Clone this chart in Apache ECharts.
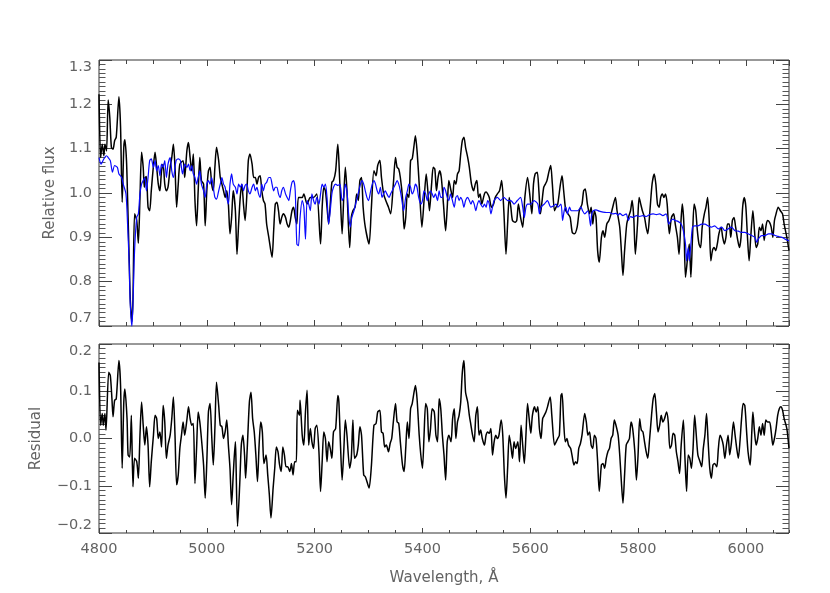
<!DOCTYPE html>
<html><head><meta charset="utf-8">
<script src="https://cdn.jsdelivr.net/npm/echarts@6/dist/echarts.min.js"></script>
<style>html,body{margin:0;padding:0;background:#fff}#c{width:830px;height:593px}</style>
</head><body><div id="c"></div>
<script>
// Observed spectrum (black)
const obsWave = [4800,4803,4806,4809,4811,4814,4817,4820,4823,4826,4829,4832,4837,4840,4843,4846,4848,4851,4853,4856,4858,4861,4863,4866,4870,4873,4876,4879,4882,4884,4886,4888,4891,4894,4897,4901,4904,4907,4910,4913,4916,4919,4922,4925,4928,4932,4935,4938,4941,4944,4947,4950,4956,4959,4963,4966,4969,4972,4975,4978,4981,4984,4987,4990,4994,4997,5000,5003,5006,5009,5012,5015,5018,5022,5025,5028,5031,5034,5037,5040,5043,5046,5049,5053,5056,5059,5062,5065,5068,5071,5074,5077,5080,5084,5087,5090,5093,5096,5099,5102,5105,5108,5111,5115,5121,5124,5127,5130,5133,5136,5139,5142,5146,5149,5152,5155,5158,5161,5164,5167,5170,5177,5180,5186,5192,5198,5204,5211,5214,5217,5220,5223,5226,5229,5232,5235,5239,5243,5245,5248,5251,5254,5257,5260,5265,5268,5271,5275,5278,5281,5284,5287,5290,5294,5301,5305,5310,5314,5317,5321,5324,5328,5332,5337,5341,5346,5350,5353,5356,5359,5363,5366,5369,5372,5375,5378,5381,5384,5387,5390,5394,5399,5403,5407,5410,5413,5417,5420,5423,5426,5429,5432,5435,5439,5443,5446,5449,5453,5456,5459,5462,5465,5468,5471,5474,5477,5480,5484,5487,5491,5495,5498,5501,5504,5507,5510,5515,5518,5521,5524,5528,5532,5535,5539,5543,5547,5551,5555,5558,5561,5564,5567,5572,5575,5578,5582,5586,5590,5595,5599,5603,5606,5609,5613,5616,5619,5622,5625,5628,5631,5635,5638,5641,5645,5648,5651,5656,5659,5662,5666,5670,5674,5678,5682,5687,5691,5696,5699,5702,5706,5710,5713,5716,5719,5722,5725,5728,5732,5735,5738,5742,5746,5750,5753,5758,5761,5766,5769,5772,5775,5779,5782,5786,5789,5792,5795,5799,5802,5805,5808,5812,5815,5818,5822,5826,5830,5833,5836,5839,5842,5845,5848,5851,5854,5858,5862,5866,5869,5873,5876,5879,5882,5885,5888,5892,5895,5898,5901,5904,5907,5910,5913,5916,5919,5923,5926,5929,5932,5935,5938,5941,5944,5947,5950,5954,5957,5960,5963,5966,5969,5972,5975,5978,5981,5985,5988,5991,5994,5997,6000,6003,6006,6009,6013,6016,6019,6022,6025,6028,6031,6034,6037,6040,6044,6047,6050,6053,6056,6060,6064,6068,6071,6076,6080];
const obsFlux = [1.223,1.080,1.110,1.084,1.110,1.095,1.210,1.171,1.103,1.099,1.118,1.126,1.217,1.148,0.979,1.103,1.120,1.073,0.990,0.850,0.760,0.710,0.760,0.953,0.938,0.887,0.990,1.092,1.058,1.013,1.035,1.037,0.968,0.960,1.005,1.062,1.092,1.058,1.020,1.005,1.050,1.065,1.020,1.005,1.013,1.058,1.080,1.110,1.058,0.968,1.020,1.065,1.073,1.035,1.095,1.114,1.080,1.050,1.088,0.983,0.926,1.005,1.080,1.028,1.020,0.926,1.005,1.050,1.058,1.020,1.005,1.058,1.103,1.073,1.035,1.020,1.005,0.990,1.005,0.975,0.908,0.945,1.005,0.960,0.862,0.930,0.990,1.020,0.975,0.938,0.990,1.073,1.088,1.065,1.035,1.035,1.020,1.035,1.039,1.005,0.983,0.975,0.930,0.900,0.855,0.915,0.975,0.979,0.960,0.930,0.945,0.953,0.945,0.930,0.923,0.938,0.960,0.968,0.945,0.930,0.990,0.990,0.998,0.975,0.990,0.990,0.998,0.885,0.968,1.013,1.005,0.968,0.930,0.975,1.024,1.028,1.050,1.110,1.073,0.983,0.908,0.990,1.058,1.005,0.877,0.945,0.960,0.968,0.998,0.983,1.028,1.035,0.968,0.923,0.885,0.960,1.050,1.039,1.062,1.074,1.035,0.998,0.983,0.968,0.953,1.020,1.080,1.058,1.054,1.035,0.990,0.919,0.945,0.998,0.990,1.073,1.077,1.103,1.129,1.095,1.020,0.923,0.983,1.043,1.005,0.960,1.020,1.058,1.054,1.005,1.035,1.050,1.035,0.975,0.915,0.968,1.028,1.005,0.990,1.028,1.020,1.043,1.050,1.088,1.118,1.126,1.103,1.080,1.058,1.020,1.005,1.020,1.028,0.990,0.998,0.975,0.998,1.002,0.998,0.990,0.968,0.975,0.990,0.998,1.005,1.028,0.960,0.862,0.930,0.990,0.968,0.938,0.934,0.938,0.975,0.945,0.923,0.990,1.035,0.998,0.953,1.020,1.043,1.047,1.005,0.953,0.983,1.013,1.020,1.028,1.050,1.062,1.020,0.960,0.968,0.975,1.020,1.039,1.005,0.960,0.953,0.945,0.911,0.908,0.923,0.960,0.975,1.005,1.009,0.975,0.953,0.968,0.930,0.960,0.945,0.870,0.844,0.900,0.915,0.900,0.930,0.938,0.953,0.968,0.990,0.960,0.923,0.870,0.814,0.870,0.930,0.945,0.960,0.983,0.945,0.862,0.930,0.990,0.975,0.960,0.945,0.923,0.908,0.960,1.020,1.043,1.020,0.975,0.968,0.990,0.998,0.990,0.998,0.975,0.908,0.945,0.953,0.930,0.900,0.862,0.923,0.975,0.930,0.810,0.855,0.885,0.810,0.900,0.975,0.960,0.915,0.885,0.877,0.923,0.953,0.968,0.990,0.938,0.847,0.870,0.877,0.870,0.885,0.908,0.923,0.900,0.885,0.900,0.930,0.930,0.900,0.938,0.945,0.923,0.893,0.877,0.900,0.968,0.990,0.968,0.900,0.847,0.900,0.960,0.915,0.877,0.885,0.923,0.915,0.930,0.893,0.923,0.938,0.934,0.923,0.900,0.938,0.953,0.968,0.960,0.953,0.930,0.900,0.870];

// Model spectrum (blue)
const modWave = [4800,4804,4809,4814,4817,4821,4825,4829,4834,4837,4842,4845,4850,4853,4856,4858,4861,4863,4866,4870,4873,4876,4879,4882,4885,4888,4891,4894,4897,4901,4904,4907,4910,4913,4916,4919,4922,4925,4928,4932,4935,4938,4943,4947,4951,4955,4959,4963,4966,4969,4972,4975,4978,4981,4984,4987,4990,4994,4997,5000,5003,5006,5009,5012,5015,5018,5022,5025,5028,5031,5034,5037,5040,5043,5046,5049,5053,5056,5059,5062,5065,5068,5071,5074,5077,5080,5084,5087,5090,5093,5096,5099,5102,5105,5108,5111,5115,5118,5121,5124,5127,5130,5133,5136,5139,5142,5146,5149,5152,5155,5158,5161,5164,5167,5170,5173,5177,5180,5183,5186,5189,5192,5195,5198,5201,5204,5208,5211,5214,5217,5220,5223,5226,5229,5232,5235,5239,5243,5247,5251,5254,5257,5260,5263,5266,5269,5273,5276,5279,5282,5285,5288,5291,5294,5297,5300,5304,5307,5310,5313,5316,5319,5322,5325,5328,5331,5334,5338,5341,5344,5347,5350,5353,5356,5359,5362,5365,5369,5372,5375,5378,5381,5384,5387,5390,5393,5397,5400,5403,5406,5409,5412,5415,5418,5421,5424,5428,5431,5434,5437,5440,5443,5446,5449,5452,5455,5459,5462,5465,5468,5471,5474,5477,5480,5484,5487,5490,5493,5496,5499,5502,5505,5508,5512,5515,5518,5521,5524,5527,5530,5533,5539,5545,5551,5558,5564,5570,5576,5582,5586,5589,5592,5595,5601,5607,5614,5617,5620,5626,5632,5638,5643,5648,5651,5657,5660,5663,5666,5669,5673,5676,5682,5688,5694,5697,5701,5707,5712,5714,5717,5722,5728,5735,5741,5747,5753,5759,5763,5766,5772,5778,5782,5786,5790,5797,5803,5809,5815,5821,5828,5834,5840,5846,5852,5857,5861,5865,5869,5874,5880,5884,5888,5890,5893,5895,5898,5901,5905,5911,5918,5924,5930,5936,5942,5949,5955,5961,5967,5973,5980,5986,5992,5998,6004,6011,6017,6020,6023,6029,6035,6042,6048,6054,6060,6067,6073,6080];
const modFlux = [1.080,1.065,1.077,1.084,1.080,1.073,1.047,1.062,1.058,1.043,1.035,1.020,0.998,0.930,0.840,0.750,0.699,0.750,0.870,0.945,0.953,0.998,1.020,1.028,1.035,1.005,1.035,1.073,1.077,1.058,1.073,1.050,1.062,1.039,1.065,1.058,1.073,1.035,1.065,1.080,1.050,1.035,1.073,1.077,1.073,1.043,1.065,1.058,1.065,1.050,1.062,1.043,1.035,1.020,1.035,1.050,1.020,1.005,0.990,1.020,1.028,1.020,1.035,1.013,0.990,0.986,1.005,1.020,1.035,1.020,1.013,0.990,0.975,1.020,1.043,1.020,1.013,0.998,1.020,1.013,1.020,1.005,1.017,1.020,1.005,0.998,1.013,1.020,1.005,1.013,0.998,0.990,1.020,1.005,1.020,1.024,1.035,1.035,1.020,1.005,1.013,1.013,0.998,0.990,1.005,1.013,0.998,0.990,0.983,1.005,1.024,1.028,1.005,0.885,0.881,0.945,0.983,0.968,0.896,0.983,0.975,0.960,0.998,0.983,0.975,0.990,0.975,0.998,1.020,1.013,1.020,0.990,0.930,0.960,0.998,1.013,1.020,1.017,1.020,0.983,0.990,1.020,1.005,0.953,0.923,0.945,0.960,0.975,0.990,1.005,1.020,1.028,1.020,1.005,0.990,0.983,1.005,1.020,1.028,1.020,1.005,0.998,1.013,0.990,0.998,1.005,0.998,0.990,0.998,1.005,1.013,1.020,1.028,1.020,1.005,0.983,0.960,0.990,1.005,1.020,1.013,0.998,1.005,1.020,1.013,0.990,0.975,0.983,1.005,0.998,0.983,0.998,1.005,0.998,0.990,0.998,0.983,1.005,0.990,0.990,1.013,1.005,0.990,0.983,0.998,0.986,0.968,0.990,0.994,0.983,0.990,0.983,0.968,0.983,0.990,0.983,0.975,0.983,0.975,0.960,0.975,0.983,0.975,0.968,0.975,0.968,0.983,0.975,0.953,0.968,0.983,0.990,0.983,0.990,0.983,0.983,0.975,0.983,0.990,0.968,0.945,0.968,0.975,0.975,0.983,0.975,0.953,0.968,0.975,0.983,0.968,0.971,0.975,0.968,0.975,0.938,0.960,0.968,0.953,0.968,0.960,0.960,0.960,0.968,0.960,0.953,0.960,0.926,0.953,0.960,0.962,0.959,0.957,0.956,0.956,0.953,0.954,0.950,0.954,0.949,0.953,0.938,0.947,0.945,0.949,0.947,0.949,0.947,0.951,0.953,0.951,0.953,0.949,0.953,0.930,0.938,0.941,0.938,0.936,0.930,0.915,0.885,0.847,0.877,0.847,0.885,0.923,0.926,0.926,0.930,0.930,0.926,0.923,0.926,0.919,0.923,0.915,0.919,0.923,0.915,0.914,0.911,0.911,0.908,0.904,0.900,0.889,0.896,0.904,0.904,0.908,0.908,0.904,0.902,0.900,0.896,0.892];

// Residual
const resWave = [4800,4803,4806,4808,4811,4813,4818,4821,4824,4826,4829,4832,4837,4840,4843,4846,4848,4852,4854,4857,4860,4863,4866,4870,4873,4876,4879,4882,4885,4888,4891,4894,4897,4901,4904,4907,4910,4913,4916,4919,4922,4925,4928,4932,4935,4938,4941,4944,4947,4950,4953,4956,4959,4963,4966,4969,4972,4975,4978,4981,4984,4987,4990,4994,4997,5000,5003,5006,5009,5012,5015,5018,5022,5025,5028,5031,5034,5037,5040,5043,5046,5049,5053,5054,5057,5061,5064,5067,5070,5072,5075,5079,5082,5085,5088,5091,5094,5097,5100,5103,5106,5110,5113,5116,5119,5123,5126,5129,5132,5135,5138,5141,5144,5147,5150,5154,5157,5160,5163,5166,5168,5172,5173,5177,5180,5183,5186,5189,5192,5195,5198,5201,5204,5208,5211,5214,5217,5220,5223,5226,5229,5232,5235,5239,5243,5245,5248,5251,5254,5257,5260,5265,5268,5271,5274,5278,5281,5284,5287,5291,5294,5297,5301,5305,5310,5314,5317,5321,5324,5327,5330,5333,5337,5340,5343,5346,5350,5353,5356,5359,5363,5366,5369,5372,5375,5378,5381,5384,5387,5390,5394,5397,5400,5403,5406,5409,5412,5415,5418,5422,5425,5428,5431,5434,5437,5440,5443,5446,5449,5453,5456,5459,5462,5465,5468,5471,5474,5477,5480,5484,5487,5490,5493,5496,5499,5502,5505,5508,5511,5515,5518,5521,5524,5527,5530,5533,5536,5539,5542,5546,5549,5552,5555,5558,5561,5564,5567,5570,5573,5577,5580,5583,5586,5589,5592,5595,5598,5601,5604,5608,5611,5614,5617,5620,5623,5626,5629,5632,5637,5640,5645,5648,5651,5654,5657,5659,5662,5665,5668,5671,5675,5678,5681,5684,5687,5690,5693,5696,5701,5704,5707,5710,5713,5716,5719,5722,5725,5728,5732,5735,5738,5741,5744,5747,5750,5753,5756,5759,5763,5766,5769,5772,5775,5778,5781,5784,5787,5790,5794,5797,5800,5803,5806,5809,5812,5815,5818,5821,5825,5828,5831,5834,5837,5840,5843,5846,5849,5853,5856,5859,5862,5865,5868,5871,5874,5877,5880,5884,5887,5890,5893,5896,5899,5902,5905,5908,5911,5915,5918,5921,5924,5927,5930,5933,5936,5939,5942,5946,5949,5952,5955,5958,5961,5964,5967,5970,5973,5977,5980,5983,5986,5989,5992,5995,5998,6001,6004,6008,6011,6013,6016,6019,6022,6025,6028,6031,6034,6037,6040,6044,6047,6050,6053,6056,6059,6062,6065,6068,6071,6076,6080];
const resVal = [0.161,0.028,0.053,0.028,0.053,0.018,0.140,0.133,0.084,0.046,0.081,0.084,0.165,0.112,-0.063,0.077,0.105,0.042,-0.035,-0.039,0.049,-0.102,-0.042,-0.049,-0.084,0.007,0.077,0.028,-0.014,0.025,-0.014,-0.102,-0.049,0.007,0.049,0.042,0.000,0.014,-0.018,0.070,0.035,-0.042,-0.014,0.007,0.042,0.088,0.007,-0.098,-0.077,-0.021,0.007,0.035,0.007,0.039,0.067,0.042,0.028,0.032,-0.095,-0.021,0.056,0.035,0.000,-0.056,-0.126,-0.049,0.056,0.074,0.007,-0.056,0.021,0.119,0.070,0.028,0.025,0.000,0.014,0.039,-0.014,-0.063,-0.140,-0.077,-0.007,-0.042,-0.186,-0.098,-0.014,0.007,-0.035,-0.084,-0.021,0.077,0.098,0.042,0.014,-0.035,-0.091,-0.014,0.035,0.014,-0.053,-0.035,-0.077,-0.119,-0.168,-0.105,-0.063,-0.018,-0.028,-0.056,-0.070,-0.018,-0.035,-0.060,-0.060,-0.070,-0.053,-0.077,-0.049,-0.049,0.060,0.049,0.081,0.007,-0.014,0.056,0.102,-0.014,0.021,-0.007,-0.021,0.021,0.028,-0.028,-0.112,-0.049,0.014,0.000,-0.049,-0.007,-0.021,-0.042,0.014,0.021,0.091,0.077,-0.014,-0.088,-0.028,0.039,0.007,-0.063,-0.042,0.039,-0.042,-0.035,-0.014,0.025,0.007,-0.077,-0.081,-0.091,-0.105,-0.063,0.028,0.032,0.056,0.060,0.014,0.011,-0.018,-0.014,-0.028,-0.011,0.000,0.035,0.074,0.035,0.032,-0.007,-0.056,-0.070,-0.021,0.035,0.000,0.063,0.074,0.095,0.112,0.084,0.007,-0.035,-0.063,0.007,0.074,0.063,-0.007,0.021,0.063,0.056,0.007,-0.007,0.084,0.063,0.007,-0.035,-0.088,-0.007,0.007,-0.007,0.042,0.063,0.000,0.035,0.049,0.077,0.140,0.165,0.098,0.077,0.049,0.028,0.007,-0.007,0.049,0.067,0.007,0.018,0.000,-0.014,0.007,0.014,0.011,0.021,-0.035,-0.007,0.007,0.000,0.007,0.039,0.007,-0.077,-0.126,-0.063,0.007,-0.014,-0.042,-0.007,-0.021,-0.007,-0.049,0.028,-0.014,-0.053,0.007,0.074,0.042,0.011,0.049,0.067,0.056,0.067,0.021,0.000,0.042,0.049,0.056,0.067,0.088,0.049,-0.014,-0.007,0.000,0.007,0.091,0.095,0.035,-0.007,0.000,-0.014,-0.021,-0.039,-0.056,-0.049,-0.053,-0.021,-0.011,0.007,0.053,0.035,0.007,0.014,-0.014,-0.021,0.007,0.000,-0.049,-0.112,-0.056,-0.053,-0.063,-0.042,-0.028,-0.021,0.000,0.007,0.039,0.028,0.007,-0.035,-0.091,-0.137,-0.077,-0.014,-0.007,0.000,0.035,0.021,-0.028,-0.088,-0.035,0.042,0.018,0.014,-0.007,-0.028,-0.042,-0.007,0.049,0.084,0.095,0.056,0.014,0.028,0.049,0.035,0.042,0.056,0.035,-0.021,-0.014,0.011,0.007,-0.028,-0.049,-0.074,-0.014,0.039,-0.042,-0.112,-0.035,-0.042,-0.063,-0.021,0.049,0.007,-0.035,-0.049,-0.060,-0.021,0.007,0.053,-0.007,-0.063,-0.084,-0.056,-0.053,-0.060,-0.021,0.007,0.000,-0.014,-0.042,-0.014,0.007,-0.035,-0.011,0.035,0.007,-0.021,-0.042,-0.007,0.042,0.074,0.070,0.021,-0.028,-0.056,0.014,0.056,0.014,-0.014,0.000,0.025,0.007,0.032,0.007,0.039,0.035,0.035,0.014,-0.014,0.000,0.021,0.049,0.063,0.067,0.060,0.042,0.021,-0.021];

// Axis tick labels
const xTickValues = [4800,5000,5200,5400,5600,5800,6000];
const xTickLabels = ['4800','5000','5200','5400','5600','5800','6000'];
const fluxTickValues = [0.7,0.8,0.9,1.0,1.1,1.2,1.3];
const fluxTickLabels = ['0.7','0.8','0.9','1.0','1.1','1.2','1.3'];
const resTickValues = [-0.2,-0.1,0.0,0.1,0.2];
const resTickLabels = ['\u22120.2','\u22120.1','0.0','0.1','0.2'];

const FONT = 'DejaVu Sans';
const TXT = '#636363';
function lookup(vals, labels) {
  return function (v) {
    for (let i = 0; i < vals.length; i++) if (Math.abs(vals[i] - v) < 1e-6) return labels[i];
    return '';
  };
}
function zip(a, b) { return a.map((x, i) => [x, b[i]]); }

const X0 = 4800, X1 = 6080;
function xAx(grid, pos, major, showLabel, len) {
  return {
    type: 'value', gridIndex: grid, position: pos, min: X0, max: X1,
    interval: major ? 200 : 50,
    axisLine: { show: false, onZero: false },
    axisTick: { show: true, inside: true, length: len, lineStyle: { color: '#444', width: 1 } },
    axisLabel: showLabel ? { show: true, margin: 9, color: TXT, fontFamily: FONT, fontSize: 14.5,
      showMaxLabel: false, formatter: lookup(xTickValues, xTickLabels) } : { show: false },
    splitLine: { show: false },
    name: (showLabel ? 'Wavelength, \u00c5' : ''), nameLocation: 'middle', nameGap: 38,
    nameTextStyle: { color: TXT, fontFamily: FONT, fontSize: 15 }
  };
}
function yAx(grid, pos, min, max, vals, labels, name, gap, showLabel) {
  return {
    type: 'value', gridIndex: grid, position: pos, min: min, max: max, interval: 0.1,
    axisLine: { show: false, onZero: false },
    axisTick: { show: true, inside: true, length: 13, lineStyle: { color: '#444', width: 1 } },
    minorTick: { show: true, splitNumber: 10, length: 6.5, lineStyle: { color: '#555', width: 1 } },
    axisLabel: showLabel ? { show: true, margin: 7, color: TXT, fontFamily: FONT, fontSize: 14.5,
      verticalAlignMaxLabel: 'top', verticalAlignMinLabel: 'bottom',
      formatter: lookup(vals, labels) } : { show: false },
    splitLine: { show: false }, minorSplitLine: { show: false },
    name: showLabel ? name : '', nameLocation: 'middle', nameGap: gap, nameRotate: 90,
    nameTextStyle: { color: TXT, fontFamily: FONT, fontSize: 15 }
  };
}

const chart = echarts.init(document.getElementById('c'), null, { renderer: 'canvas' });
chart.setOption({
  animation: false,
  backgroundColor: '#ffffff',
  grid: [
    { left: 99, top: 60, width: 690, height: 266, show: true, borderColor: '#333', borderWidth: 1, backgroundColor: 'transparent', containLabel: false, outerBoundsMode: 'none' },
    { left: 99, top: 344, width: 690, height: 189, show: true, borderColor: '#333', borderWidth: 1, backgroundColor: 'transparent', containLabel: false, outerBoundsMode: 'none' }
  ],
  xAxis: [
    xAx(0, 'bottom', true, false, 6),
    xAx(0, 'bottom', false, false, 4),
    xAx(0, 'top', true, false, 6),
    xAx(0, 'top', false, false, 4),
    xAx(1, 'bottom', true, true, 5),
    xAx(1, 'bottom', false, false, 3),
    xAx(1, 'top', true, false, 5),
    xAx(1, 'top', false, false, 3)
  ],
  yAxis: [
    yAx(0, 'left', 0.7, 1.3, fluxTickValues, fluxTickLabels, 'Relative flux', 38, true),
    yAx(0, 'right', 0.7, 1.3, fluxTickValues, fluxTickLabels, '', 0, false),
    yAx(1, 'left', -0.2, 0.2, resTickValues, resTickLabels, 'Residual', 55, true),
    yAx(1, 'right', -0.2, 0.2, resTickValues, resTickLabels, '', 0, false)
  ],
  series: [
    { type: 'line', name: 'Observed', xAxisIndex: 0, yAxisIndex: 0, data: zip(obsWave, obsFlux),
      showSymbol: false, smooth: 0.25, lineStyle: { color: '#000', width: 1.5 }, clip: true, z: 2 },
    { type: 'line', name: 'Model', xAxisIndex: 0, yAxisIndex: 0, data: zip(modWave, modFlux),
      showSymbol: false, smooth: 0.25, lineStyle: { color: '#0a0aff', width: 1.2 }, clip: true, z: 3 },
    { type: 'line', name: 'Residual', xAxisIndex: 4, yAxisIndex: 2, data: zip(resWave, resVal),
      showSymbol: false, smooth: 0.25, lineStyle: { color: '#000', width: 1.5 }, clip: true, z: 2 }
  ]
});
</script></body></html>
